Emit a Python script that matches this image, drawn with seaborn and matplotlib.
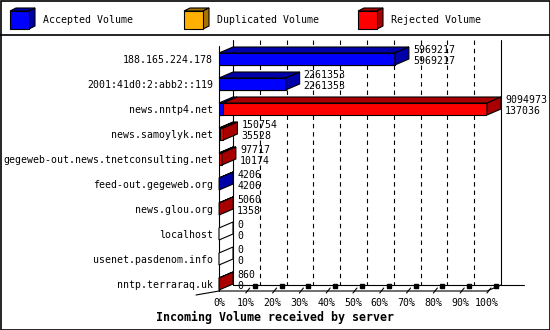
import numpy as np
import pandas as pd
import matplotlib
matplotlib.use("Agg")
import matplotlib.pyplot as plt
from matplotlib.patches import Polygon, Rectangle
import seaborn as sns

# ---------------- data ----------------
hosts = ["188.165.224.178", "2001:41d0:2:abb2::119", "news.nntp4.net", "news.samoylyk.net",
         "gegeweb-out.news.tnetconsulting.net", "feed-out.gegeweb.org", "news.glou.org",
         "localhost", "usenet.pasdenom.info", "nntp.terraraq.uk"]
total_volume = [5969217, 2261353, 9094973, 150754, 97717, 4206, 5060, 0, 0, 860]
accepted_volume = [5969217, 2261353, 137036, 35528, 10174, 4206, 1358, 0, 0, 0]
legend_labels = ["Accepted Volume", "Duplicated Volume", "Rejected Volume"]
tick_labels = [f"{p}%" for p in range(0, 101, 10)]
title = "Incoming Volume received by server"

# ---------------- style ----------------
W, H, DPI = 550, 330, 100
FRONT = ["#0000ff", "#ffb000", "#ff0000"]
SIDE = ["#0000a8", "#a87400", "#a80000"]
FS = 7.1
LW = 0.8

sns.set_theme(style="white")
plt.rcParams["font.family"] = ["DejaVu Sans Mono", "DejaVu Sans"]
plt.rcParams["text.color"] = "black"
plt.rcParams["xtick.color"] = "black"
plt.rcParams["ytick.color"] = "black"
plt.rcParams["axes.labelcolor"] = "black"

fig = plt.figure(figsize=(W / DPI, H / DPI), dpi=DPI)
fig.patch.set_facecolor("white")

# frame axes in pixel units (border, legend, title)
fr = fig.add_axes([0, 0, 1, 1])
fr.set_xlim(0, W)
fr.set_ylim(H, 0)
fr.axis("off")

# plot axes
PX0, PX1 = 219, 487
PY_TOP, PY_BOT = 40, 291
ROW0, ROWSTEP = 59, 25
ax = fig.add_axes([PX0 / W, 1 - PY_BOT / H, (PX1 - PX0) / W, (PY_BOT - PY_TOP) / H])
ax.set_facecolor("none")

xmax = max(total_volume)
px_x = xmax / (PX1 - PX0)
px_y = 1.0 / ROWSTEP
DX, DY = 14 * px_x, 6 * px_y
BAR_H = 12 * px_y

df = pd.DataFrame({"host": hosts, "total": total_volume, "accepted": accepted_volume})
sns.barplot(data=df, x="total", y="host", color=FRONT[2], saturation=1, width=BAR_H,
            edgecolor="black", linewidth=LW, errorbar=None, ax=ax, zorder=3)
sns.barplot(data=df, x="accepted", y="host", color=FRONT[0], saturation=1, width=BAR_H,
            edgecolor="black", linewidth=LW, errorbar=None, ax=ax, zorder=3)

ytop_lim = (PY_TOP - ROW0) / ROWSTEP
ybot_lim = (PY_BOT - ROW0) / ROWSTEP
ax.set_xlim(0, xmax)
ax.set_ylim(ybot_lim, ytop_lim)
for s in ax.spines.values():
    s.set_visible(False)
ax.set_xlabel("")
ax.set_ylabel("")

# 3D top / side faces
for i, (tot, acc) in enumerate(zip(total_volume, accepted_volume)):
    acc = min(acc, tot)
    yt, yb = i - BAR_H / 2, i + BAR_H / 2
    polys = []
    if acc > 0:
        polys.append(([(0, yt), (acc, yt), (acc + DX, yt - DY), (DX, yt - DY)], SIDE[0]))
    if tot > acc:
        polys.append(([(acc, yt), (tot, yt), (tot + DX, yt - DY), (acc + DX, yt - DY)], SIDE[2]))
    if tot > acc:
        sc = SIDE[2]
    elif acc > 0:
        sc = SIDE[0]
    else:
        sc = "white"
    polys.append(([(tot, yt), (tot, yb), (tot + DX, yb - DY), (tot + DX, yt - DY)], sc))
    for pts, c in polys:
        ax.add_patch(Polygon(pts, closed=True, facecolor=c, edgecolor="black",
                             linewidth=LW, clip_on=False, zorder=4))
    ax.text(tot + DX + 4 * px_x, i - 0.36, f"{tot}", ha="left", va="center",
            fontsize=FS, clip_on=False, zorder=5)
    ax.text(tot + DX + 4 * px_x, i + 0.08, f"{accepted_volume[i]}", ha="left", va="center",
            fontsize=FS, clip_on=False, zorder=5)

# walls, floor and grid
lk = dict(color="black", linewidth=LW, clip_on=False, zorder=1)
ax.plot([0, 0], [ytop_lim + DY, ybot_lim], **lk)
ax.plot([DX, DX], [ytop_lim, ybot_lim - DY], **lk)
ax.plot([xmax + DX, xmax + DX], [ytop_lim, ybot_lim - DY], **lk)
ax.plot([DX, xmax + DX + 23 * px_x], [ybot_lim - DY, ybot_lim - DY], **lk)
ax.plot([0, xmax, xmax + DX], [ybot_lim, ybot_lim, ybot_lim - DY], **lk)
ax.plot([-23 * px_x, 0], [ybot_lim + 4 * px_y, ybot_lim], **lk)
xt = np.linspace(0, xmax, len(tick_labels))
for k, x in enumerate(xt):
    if 0 < k < len(xt) - 1:
        ax.plot([x + DX, x + DX], [ytop_lim, ybot_lim - DY], color="black",
                linewidth=LW, linestyle=(0, (4, 3.5)), clip_on=False, zorder=1)
    if k > 0:
        ax.plot([x, x + 4 * px_x], [ybot_lim + 2 * px_y, ybot_lim - 3 * px_y], **lk)
        ax.plot([x + 9 * px_x], [ybot_lim - 5 * px_y], marker="s", markersize=2.2,
                color="black", clip_on=False, zorder=1)

ax.set_xticks(xt)
ax.set_xticklabels(tick_labels, fontsize=FS)
ax.tick_params(axis="x", length=0, pad=5.2, colors="black")
ax.tick_params(axis="y", length=0, pad=4.3, labelsize=FS, colors="black")

# border & legend divider
fr.add_patch(Rectangle((0.5, 0.5), W - 1, H - 1, fill=False, edgecolor="black", linewidth=1.2))
fr.plot([0, W], [35, 35], color="black", linewidth=1.2)

legend_x = [10, 184, 358]
for lx, lab, fc, sc in zip(legend_x, legend_labels, FRONT, SIDE):
    fr.add_patch(Polygon([(lx, 11), (lx + 19, 11), (lx + 25, 8), (lx + 6, 8)], closed=True,
                         facecolor=sc, edgecolor="black", linewidth=LW))
    fr.add_patch(Polygon([(lx + 19, 11), (lx + 19, 29), (lx + 25, 26), (lx + 25, 8)], closed=True,
                         facecolor=sc, edgecolor="black", linewidth=LW))
    fr.add_patch(Rectangle((lx, 11), 19, 18, facecolor=fc, edgecolor="black", linewidth=LW))
    fr.text(lx + 33, 20, lab, ha="left", va="center", fontsize=FS, color="black")

fr.text(W / 2, 317, title, ha="center", va="center", fontsize=8.4, fontweight="bold",
        color="black")

fig.savefig("out.png", dpi=DPI, facecolor="white")
